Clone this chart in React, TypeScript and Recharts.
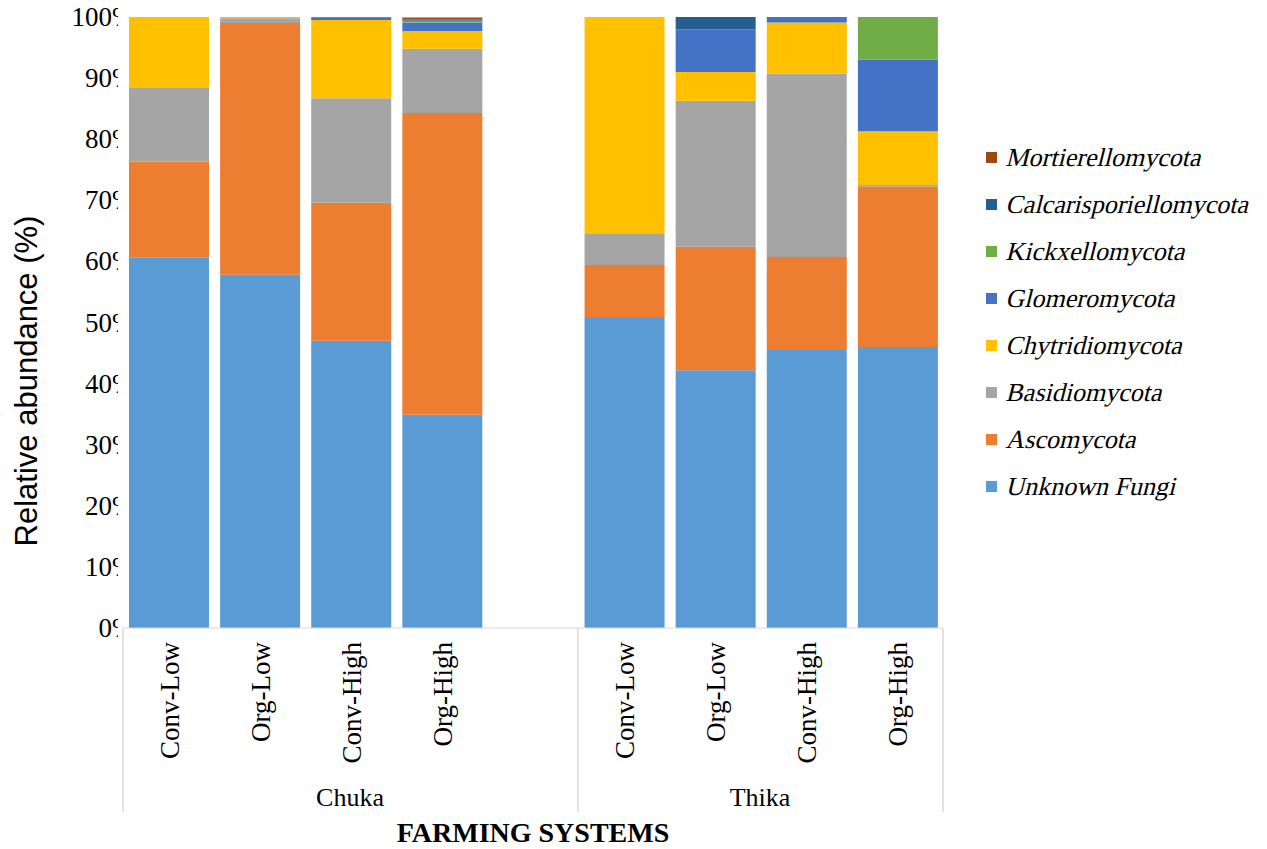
import React from "react";
import { BarChart, Bar, XAxis, YAxis, Legend } from "recharts";

// 9 slots: 4 Chuka treatments, one empty spacer, 4 Thika treatments
const categories = ["Conv-Low", "Org-Low", "Conv-High", "Org-High", "", "Conv-Low", "Org-Low", "Conv-High", "Org-High"];
const groups = ["Chuka", "Thika"];
const yTicks = [0, 10, 20, 30, 40, 50, 60, 70, 80, 90, 100];

const unknownFungi = [60.6, 57.8, 47.0, 34.9, null, 50.9, 42.2, 45.5, 46.0];
const ascomycota = [15.7, 41.2, 22.6, 49.4, null, 8.5, 20.2, 15.2, 26.2];
const basidiomycota = [12.1, 0.8, 17.1, 10.5, null, 5.1, 23.9, 30.0, 0.3];
const chytridiomycota = [11.6, 0.1, 12.8, 2.9, null, 35.5, 4.7, 8.4, 8.8];
const glomeromycota = [0, 0, 0.4, 1.4, null, 0, 7.0, 0.9, 11.7];
const kickxellomycota = [0, 0.1, 0, 0.3, null, 0, 0, 0, 7.0];
const calcarisporiellomycota = [0, 0, 0.1, 0.2, null, 0, 2.0, 0, 0];
const mortierellomycota = [0, 0, 0, 0.3, null, 0, 0, 0, 0];

const series = [
  { key: "Unknown Fungi", values: unknownFungi, color: "#5b9bd5" },
  { key: "Ascomycota", values: ascomycota, color: "#ed7d31" },
  { key: "Basidiomycota", values: basidiomycota, color: "#a5a5a5" },
  { key: "Chytridiomycota", values: chytridiomycota, color: "#ffc000" },
  { key: "Glomeromycota", values: glomeromycota, color: "#4472c4" },
  { key: "Kickxellomycota", values: kickxellomycota, color: "#70ad47" },
  { key: "Calcarisporiellomycota", values: calcarisporiellomycota, color: "#255e91" },
  { key: "Mortierellomycota", values: mortierellomycota, color: "#9e480e" },
];

const data = categories.map((name, i) => {
  const row: Record<string, any> = { id: `c${i}`, name };
  series.forEach((s) => {
    row[s.key] = s.values[i];
  });
  return row;
});

const SERIF = "Liberation Serif, Times New Roman, serif";

// y labels: the "%" is cut off just after the digits, as in the original
const YTick = ({ y, payload }: any) => (
  <g>
    <clipPath id={`yclip-${payload.value}`}>
      <rect x={0} y={y - 30} width={118} height={60} />
    </clipPath>
    <text x={112} y={y} dy={9} textAnchor="end" fontFamily={SERIF} fontSize={27} fill="#000">
      {payload.value}
    </text>
    <text x={112} y={y} dy={9} fontFamily={SERIF} fontSize={27} fill="#000" clipPath={`url(#yclip-${payload.value})`}>
      %
    </text>
  </g>
);

const XTick = ({ x, y, index }: any) => (
  <text
    x={x}
    y={y + 6}
    transform={`rotate(-90 ${x} ${y + 6})`}
    dy={10}
    textAnchor="end"
    fontFamily={SERIF}
    fontSize={27}
    fill="#000"
  >
    {categories[index]}
  </text>
);

// no serif italic face here, so slant the regular serif
const LegendContent = () => (
  <div>
    {[...series].reverse().map((s) => (
      <div key={s.key} style={{ display: "flex", alignItems: "center", height: 47 }}>
        <span style={{ width: 11, height: 11, background: s.color, marginRight: 8, flexShrink: 0 }} />
        <span
          style={{
            display: "inline-block",
            fontFamily: SERIF,
            fontSize: 26,
            color: "#000",
            whiteSpace: "nowrap",
            transform: "skewX(-14deg)",
            transformOrigin: "0 80%",
          }}
        >
          {s.key}
        </span>
      </div>
    ))}
  </div>
);

export default function App() {
  return (
    <div style={{ position: "absolute", left: 0, top: 0, width: 1267, height: 849, background: "#fff" }}>
      <BarChart
        width={1267}
        height={849}
        data={data}
        margin={{ top: 17, right: 324, left: 0, bottom: 0 }}
        barSize={80}
      >
        <XAxis
          dataKey="id"
          axisLine={{ stroke: "#d9d9d9" }}
          tickLine={false}
          tick={<XTick />}
          interval={0}
          height={221}
        />
        <YAxis
          type="number"
          domain={[0, 100]}
          ticks={yTicks}
          axisLine={false}
          tickLine={false}
          tick={<YTick />}
          width={123}
        />
        <Legend
          layout="horizontal"
          verticalAlign="middle"
          align="center"
          content={<LegendContent />}
          wrapperStyle={{ left: 986, top: 134, width: 281 }}
        />
        {series.map((s) => (
          <Bar key={s.key} dataKey={s.key} stackId="a" fill={s.color} isAnimationActive={false} />
        ))}
      </BarChart>
      <svg width={1267} height={849} style={{ position: "absolute", left: 0, top: 0, pointerEvents: "none" }}>
        {[123, 578, 943].map((x) => (
          <line key={x} x1={x} x2={x} y1={628} y2={812} stroke="#d9d9d9" strokeWidth={1.5} />
        ))}
        <text x={350} y={806} textAnchor="middle" fontFamily={SERIF} fontSize={26} fill="#000">
          {groups[0]}
        </text>
        <text x={760} y={806} textAnchor="middle" fontFamily={SERIF} fontSize={26} fill="#000">
          {groups[1]}
        </text>
        <text x={533} y={842} textAnchor="middle" fontFamily={SERIF} fontSize={28} fontWeight="bold" fill="#000">
          FARMING SYSTEMS
        </text>
        <text
          x={37}
          y={381}
          transform="rotate(-90 37 381)"
          textAnchor="middle"
          fontFamily="Liberation Sans, Arial, sans-serif"
          fontSize={31}
          fill="#000"
        >
          Relative abundance (%)
        </text>
      </svg>
    </div>
  );
}
